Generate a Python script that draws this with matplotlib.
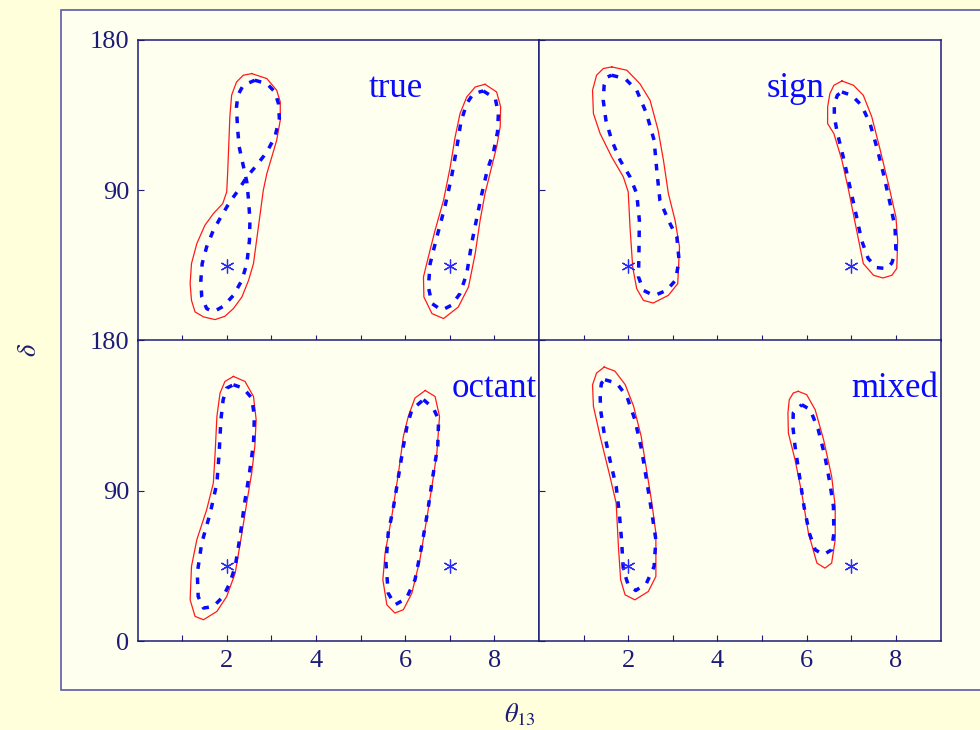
import matplotlib
matplotlib.use("Agg")
import matplotlib.pyplot as plt
from matplotlib.patches import Rectangle
import numpy as np

plt.rcParams['font.family'] = ['Liberation Serif', 'DejaVu Serif']
plt.rcParams['mathtext.fontset'] = 'stix'

NAVY = '#1c1c78'
FRAME = '#5a5aa8'
RED = '#ff1a1a'
BLUE = '#0a0aff'
FIG_BG = '#ffffdc'
AX_BG = '#fffff0'

# best-fit points (theta13 [deg], delta [deg])
true_points = [(2.0, 45.0), (7.0, 45.0)]

# ---- "true" panel contours: (theta13, delta) ----
true_low_red = [(2.56, 159.9), (2.90, 156.9), (3.12, 149.9), (3.20, 143.0), (3.20, 132.0),
                (3.12, 120.0), (3.01, 110.0), (2.90, 100.1), (2.82, 90.1), (2.75, 76.1),
                (2.67, 60.2), (2.60, 46.2), (2.49, 36.2), (2.34, 26.2), (2.15, 19.3),
                (1.96, 14.7), (1.74, 12.7), (1.48, 14.3), (1.29, 17.3), (1.21, 24.2),
                (1.18, 34.2), (1.21, 46.2), (1.33, 58.2), (1.51, 69.1), (1.70, 76.1),
                (1.91, 82.1), (2.00, 89.1), (2.02, 100.1), (2.05, 120.0), (2.07, 134.0),
                (2.11, 147.0), (2.22, 154.9), (2.37, 158.9)]
true_low_blue = [(2.63, 155.9), (2.90, 153.9), (3.08, 148.9), (3.16, 141.9), (3.18, 133.0),
                 (3.08, 122.0), (2.90, 113.0), (2.67, 105.0), (2.45, 98.1), (2.26, 90.1),
                 (2.07, 83.1), (1.89, 75.1), (1.70, 66.1), (1.55, 56.2), (1.45, 46.2),
                 (1.42, 36.2), (1.44, 26.2), (1.55, 19.3), (1.70, 17.3), (1.92, 20.6),
                 (2.15, 27.2), (2.34, 36.2), (2.45, 46.2), (2.51, 60.2), (2.52, 72.1),
                 (2.49, 84.1), (2.45, 95.1), (2.36, 106.1), (2.28, 116.0), (2.24, 128.0),
                 (2.22, 140.0), (2.25, 147.0), (2.37, 152.9)]
true_high_red = [(7.79, 153.5), (8.05, 148.9), (8.14, 140.0), (8.13, 128.0), (8.05, 116.0),
                 (7.92, 102.1), (7.79, 88.1), (7.68, 72.1), (7.57, 52.2), (7.42, 32.2),
                 (7.19, 20.2), (6.86, 13.3), (6.60, 16.3), (6.42, 26.2), (6.41, 38.2),
                 (6.52, 50.2), (6.67, 66.1), (6.86, 84.1), (7.01, 104.0), (7.12, 122.0),
                 (7.23, 136.0), (7.38, 145.9), (7.57, 151.9)]
true_high_blue = [(7.75, 149.5), (8.02, 145.0), (8.09, 136.0), (8.07, 125.0), (7.98, 113.0),
                  (7.84, 102.1), (7.72, 88.1), (7.61, 74.1), (7.49, 58.2), (7.38, 40.2),
                  (7.23, 28.3), (7.04, 21.3), (6.82, 18.3), (6.60, 22.3), (6.52, 32.2),
                  (6.56, 46.2), (6.71, 62.1), (6.89, 80.1), (7.04, 98.1), (7.16, 116.0),
                  (7.25, 131.0), (7.38, 142.0), (7.53, 148.0)]

# ---- "sign" panel contours ----
sign_low_red = [(1.63, 163.9), (1.97, 161.9), (2.26, 153.9), (2.49, 143.9), (2.67, 126.0),
                (2.79, 108.0), (2.90, 88.1), (3.05, 72.1), (3.15, 56.2), (3.11, 34.2),
                (2.90, 27.2), (2.56, 22.6), (2.34, 24.2), (2.19, 31.2), (2.10, 44.2),
                (2.04, 68.1), (2.00, 89.1), (1.89, 98.1), (1.63, 110.0), (1.37, 124.0),
                (1.22, 136.0), (1.20, 149.9), (1.29, 158.9), (1.44, 162.9)]
sign_low_blue = [(1.63, 158.9), (1.93, 156.9), (2.19, 149.9), (2.41, 136.0), (2.58, 120.0),
                 (2.64, 102.1), (2.71, 84.1), (2.90, 72.1), (3.09, 62.1), (3.14, 48.2),
                 (3.06, 36.2), (2.86, 30.2), (2.58, 27.0), (2.34, 30.2), (2.23, 38.2),
                 (2.24, 52.2), (2.25, 72.1), (2.19, 88.1), (2.04, 98.1), (1.82, 108.0),
                 (1.63, 120.0), (1.50, 132.0), (1.44, 143.9), (1.46, 152.9), (1.53, 157.9)]
sign_high_red = [(6.79, 155.5), (7.05, 152.9), (7.27, 146.9), (7.46, 134.0), (7.65, 114.0),
                 (7.83, 94.1), (8.00, 74.1), (8.04, 60.2), (8.02, 43.3), (7.91, 39.2),
                 (7.71, 37.6), (7.50, 39.2), (7.27, 46.2), (7.09, 70.1), (6.94, 90.1),
                 (6.79, 108.0), (6.61, 124.0), (6.47, 130.0), (6.47, 140.0), (6.52, 147.9),
                 (6.61, 152.9)]
sign_high_blue = [(6.79, 148.9), (7.01, 146.9), (7.23, 140.9), (7.42, 130.0), (7.57, 116.0),
                  (7.72, 100.1), (7.87, 82.1), (7.98, 68.1), (8.00, 54.2), (7.91, 46.6),
                  (7.80, 43.2), (7.57, 43.8), (7.38, 49.2), (7.23, 60.2), (7.12, 74.1),
                  (6.97, 92.1), (6.82, 110.0), (6.69, 124.0), (6.62, 134.0), (6.62, 142.0),
                  (6.69, 147.0)]

# ---- "octant" panel contours ----
octant_low_red = [(2.15, 158.5), (2.41, 155.5), (2.60, 146.5), (2.66, 132.6), (2.63, 116.7),
                  (2.56, 100.7), (2.46, 84.7), (2.34, 64.7), (2.19, 40.8), (2.00, 26.8),
                  (1.78, 17.9), (1.48, 12.9), (1.29, 14.9), (1.18, 24.8), (1.21, 44.8),
                  (1.33, 60.8), (1.55, 78.7), (1.70, 94.7), (1.74, 112.6), (1.78, 134.6),
                  (1.85, 148.5), (1.96, 155.5)]
octant_low_blue = [(2.15, 153.5), (2.37, 151.5), (2.56, 145.6), (2.62, 134.6), (2.60, 118.6),
                   (2.51, 100.7), (2.40, 82.7), (2.30, 62.8), (2.19, 44.8), (2.07, 34.8),
                   (1.92, 26.8), (1.70, 20.8), (1.48, 19.9), (1.36, 26.8), (1.34, 40.8),
                   (1.44, 58.8), (1.63, 76.7), (1.78, 94.7), (1.83, 112.6), (1.87, 132.6),
                   (1.92, 144.6), (2.00, 151.5)]
octant_high_red = [(6.45, 150.1), (6.67, 146.5), (6.77, 134.6), (6.71, 112.6), (6.60, 92.7),
                   (6.48, 72.7), (6.33, 48.8), (6.15, 28.8), (5.96, 18.9), (5.77, 16.9),
                   (5.59, 21.8), (5.50, 36.8), (5.55, 52.8), (5.70, 74.7), (5.85, 100.7),
                   (5.96, 122.6), (6.07, 134.6), (6.22, 145.6)]
octant_high_blue = [(6.41, 144.6), (6.63, 139.6), (6.75, 132.6), (6.73, 116.7), (6.62, 98.7),
                    (6.51, 78.7), (6.37, 56.8), (6.22, 36.8), (6.03, 25.8), (5.77, 21.8),
                    (5.62, 28.8), (5.57, 46.8), (5.62, 64.7), (5.74, 80.7), (5.85, 98.7),
                    (5.96, 116.7), (6.04, 128.6), (6.15, 138.6)]

# ---- "mixed" panel contours ----
mixed_low_red = [(1.46, 164.1), (1.70, 161.7), (1.93, 153.7), (2.12, 140.7), (2.29, 122.7),
                 (2.41, 102.7), (2.53, 82.7), (2.62, 64.7), (2.62, 38.8), (2.45, 29.8),
                 (2.15, 24.8), (1.93, 27.8), (1.83, 36.8), (1.78, 56.8), (1.73, 82.7),
                 (1.59, 98.7), (1.37, 122.7), (1.22, 140.6), (1.20, 153.5), (1.29, 160.5)]
mixed_low_blue = [(1.48, 156.5), (1.74, 154.5), (1.97, 146.5), (2.15, 132.6), (2.30, 114.6),
                  (2.41, 96.7), (2.53, 76.7), (2.62, 60.8), (2.58, 44.8), (2.41, 34.8),
                  (2.17, 30.4), (2.00, 33.8), (1.89, 42.8), (1.85, 60.8), (1.80, 76.7),
                  (1.73, 92.7), (1.59, 108.6), (1.46, 124.7), (1.38, 138.6), (1.37, 148.5),
                  (1.40, 154.5)]
mixed_high_red = [(5.81, 149.6), (6.00, 147.6), (6.19, 138.6), (6.38, 120.6), (6.56, 98.7),
                  (6.64, 80.7), (6.64, 60.8), (6.56, 46.8), (6.41, 43.8), (6.23, 46.8),
                  (6.04, 64.7), (5.89, 88.7), (5.74, 108.6), (5.59, 124.6), (5.58, 136.6),
                  (5.61, 144.6), (5.70, 148.6)]
mixed_high_blue = [(5.89, 141.6), (6.08, 138.6), (6.26, 126.6), (6.41, 110.6), (6.52, 94.7),
                   (6.60, 80.7), (6.61, 64.7), (6.56, 54.8), (6.38, 51.8), (6.19, 54.8),
                   (6.06, 64.7), (5.94, 80.7), (5.84, 98.7), (5.74, 116.6), (5.69, 128.6),
                   (5.70, 136.6)]

panel_names = ['true', 'sign', 'octant', 'mixed']
panel_contours = {
    'true': [(true_low_red, true_low_blue), (true_high_red, true_high_blue)],
    'sign': [(sign_low_red, sign_low_blue), (sign_high_red, sign_high_blue)],
    'octant': [(octant_low_red, octant_low_blue), (octant_high_red, octant_high_blue)],
    'mixed': [(mixed_low_red, mixed_low_blue), (mixed_high_red, mixed_high_blue)],
}
label_pos = {'true': (5.80, 151), 'sign': (5.74, 151), 'octant': (8.0, 151), 'mixed': (7.98, 151)}

x_ticks = [1, 2, 3, 4, 5, 6, 7, 8]
x_ticklabels = ['', '2', '', '4', '', '6', '', '8']

fig = plt.figure(figsize=(9.8, 7.3), dpi=100, facecolor=FIG_BG)

# outer frame (open on the right), kept behind the panels
frame = Rectangle((0.0622, 0.0548), 1.0, 0.9315, transform=fig.transFigure,
                  facecolor=AX_BG, edgecolor=FRAME, lw=1.2, zorder=-5)
fig.patches.append(frame)

W, H = 980, 730
left_x = [137.5, 539.0]
top_y = [40.0, 340.5]
pw, ph = 401.5, 300.8

for i, name in enumerate(panel_names):
    r, c = divmod(i, 2)
    x0 = left_x[c] / W
    y0 = (H - top_y[r] - ph) / H
    ax = fig.add_axes([x0, y0, pw / W, ph / H])
    ax.set_zorder(1)
    ax.set_facecolor(AX_BG)
    ax.set_xlim(0, 9)
    ax.set_ylim(0, 180)
    for sp in ax.spines.values():
        sp.set_color(NAVY)
        sp.set_linewidth(1.1)

    for red_pts, blue_pts in panel_contours[name]:
        rp = np.array(red_pts + red_pts[:1])
        bp = np.array(blue_pts + blue_pts[:1])
        ax.plot(rp[:, 0], rp[:, 1], color=RED, lw=0.9, zorder=3)
        ax.plot(bp[:, 0], bp[:, 1], color=BLUE, lw=2.5, dashes=(1.9, 2.5), zorder=4)

    pts = np.array(true_points)
    ax.plot(pts[:, 0], pts[:, 1], ls='none', marker=(6, 2, 0), ms=10, mew=0.9,
            color='#2a2aff', zorder=5)

    lx, ly = label_pos[name]
    ax.text(lx, ly, name, color=BLUE, fontsize=25, ha='center', va='center', zorder=6)

    ax.set_xticks(x_ticks)
    ax.tick_params(axis='both', direction='in', length=4, width=0.8, color=NAVY,
                   labelcolor=NAVY, labelsize=19, top=False, right=False, pad=6)
    if r == 1:
        ax.set_xticklabels(x_ticklabels)
    else:
        ax.set_xticklabels([])
    ax.set_yticks([0, 90, 180])
    if c == 0:
        if r == 0:
            ax.set_yticklabels(['', '90', '180'])
        else:
            ax.set_yticklabels(['0', '90', '180'])
    else:
        ax.set_yticklabels([])

fig.text(0.031, 0.5205, r'$\delta$', color=NAVY, fontsize=19, rotation=90,
         ha='center', va='center')
fig.text(0.531, 0.021, r'$\theta_{13}$', color=NAVY, fontsize=19, ha='center', va='center')

fig.savefig('out.png', dpi=100, facecolor=FIG_BG)
